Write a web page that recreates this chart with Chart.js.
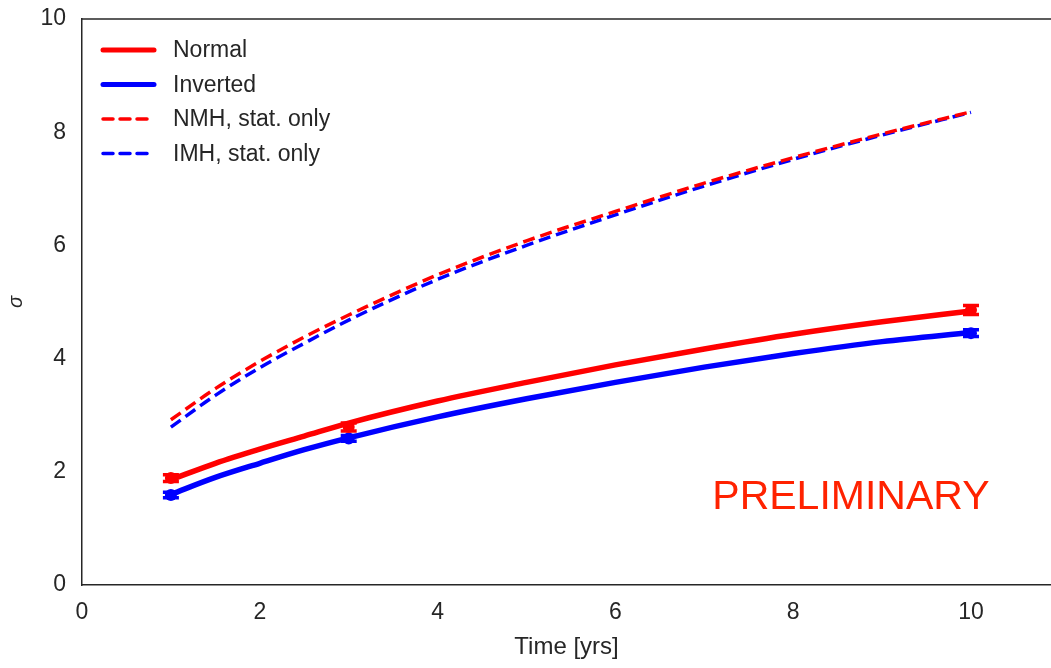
<!DOCTYPE html>
<html>
<head>
<meta charset="utf-8">
<script src="https://cdn.jsdelivr.net/npm/chart.js@4.4.0/dist/chart.umd.min.js"></script>
<style>
  html, body { margin: 0; padding: 0; background: #fff; }
  #wrap { width: 1051px; height: 668px; }
</style>
</head>
<body>
<div id="wrap"><canvas id="myChart" width="1051" height="668"></canvas></div>
<script>
// curves
const curveTimes = [1, 1.5, 2, 2.5, 3, 4, 5, 6, 7, 8, 9, 10];
const normalFit = [1.86, 2.15, 2.40, 2.63, 2.86, 3.25, 3.58, 3.89, 4.17, 4.43, 4.65, 4.84];
const invertedFit = [1.60, 1.90, 2.15, 2.39, 2.60, 2.97, 3.29, 3.58, 3.85, 4.09, 4.30, 4.46];
const nmhStat = [2.92, 3.47, 3.95, 4.38, 4.77, 5.48, 6.08, 6.60, 7.10, 7.55, 7.97, 8.36];
const imhStat = [2.79, 3.35, 3.84, 4.27, 4.68, 5.40, 6.00, 6.54, 7.05, 7.52, 7.95, 8.35];

// simulated points with error bars
const pointTimes = [1, 3, 10];
const normalPts = [1.89, 2.79, 4.86];
const normalErr = [0.06, 0.07, 0.08];
const invertedPts = [1.59, 2.59, 4.45];
const invertedErr = [0.05, 0.05, 0.06];

const xTicks = [0, 2, 4, 6, 8, 10];
const yTicks = [0, 2, 4, 6, 8, 10];

const legendItems = [
  { label: "Normal", color: "#ff0000", width: 5, dash: [] },
  { label: "Inverted", color: "#0000ff", width: 5, dash: [] },
  { label: "NMH, stat. only", color: "#ff0000", width: 3.5, dash: [10, 7] },
  { label: "IMH, stat. only", color: "#0000ff", width: 3.5, dash: [10, 7] },
];

const fontFamily = "'Liberation Sans', Arial, Helvetica, sans-serif";
const axisColor = "#262626";

function toXY(xs, ys) {
  return xs.map((x, i) => ({ x: x, y: ys[i] }));
}

function lineSet(label, ys, color, width, dash) {
  return {
    type: "line",
    label: label,
    data: toXY(curveTimes, ys),
    borderColor: color,
    borderWidth: width,
    borderDash: dash,
    pointRadius: 0,
    fill: false,
    cubicInterpolationMode: "monotone",
  };
}

function pointSet(label, ys, errs, color) {
  return {
    type: "scatter",
    label: label,
    data: toXY(pointTimes, ys),
    errors: errs,
    backgroundColor: color,
    borderColor: color,
    pointRadius: 6,
    pointBorderWidth: 0,
  };
}

const datasets = [
  lineSet("NMH, stat. only", nmhStat, "#ff0000", 3.5, [12, 6]),
  lineSet("IMH, stat. only", imhStat, "#0000ff", 3.5, [12, 6]),
  lineSet("Normal", normalFit, "#ff0000", 5.5, []),
  lineSet("Inverted", invertedFit, "#0000ff", 5.5, []),
  pointSet("Normal points", normalPts, normalErr, "#ff0000"),
  pointSet("Inverted points", invertedPts, invertedErr, "#0000ff"),
];

// error bars, top spine, legend and watermark
const extras = {
  id: "extras",
  afterDatasetsDraw(chart) {
    const ctx = chart.ctx;
    const xs = chart.scales.x, ys = chart.scales.y;
    chart.data.datasets.forEach(ds => {
      if (!ds.errors) return;
      ctx.save();
      ctx.strokeStyle = ds.borderColor;
      ds.data.forEach((p, i) => {
        const px = xs.getPixelForValue(p.x);
        const top = ys.getPixelForValue(p.y + ds.errors[i]);
        const bot = ys.getPixelForValue(p.y - ds.errors[i]);
        ctx.lineWidth = 5;
        ctx.beginPath();
        ctx.moveTo(px, top); ctx.lineTo(px, bot);
        ctx.stroke();
        ctx.lineWidth = 3.5;
        ctx.beginPath();
        ctx.moveTo(px - 8, top); ctx.lineTo(px + 8, top);
        ctx.moveTo(px - 8, bot); ctx.lineTo(px + 8, bot);
        ctx.stroke();
      });
      ctx.restore();
    });
  },
  afterDraw(chart) {
    const ctx = chart.ctx;
    const a = chart.chartArea;
    ctx.save();
    ctx.strokeStyle = axisColor;
    ctx.lineWidth = 1.5;
    ctx.beginPath();
    ctx.moveTo(a.left, a.top);
    ctx.lineTo(a.right, a.top);
    ctx.stroke();

    // legend
    ctx.font = "23px " + fontFamily;
    ctx.textBaseline = "middle";
    legendItems.forEach((it, i) => {
      const y = a.top + 31 + i * 34.5;
      ctx.strokeStyle = it.color;
      ctx.lineWidth = it.width;
      ctx.lineCap = "round";
      ctx.setLineDash(it.dash);
      ctx.beginPath();
      ctx.moveTo(a.left + 21, y);
      ctx.lineTo(a.left + 72, y);
      ctx.stroke();
      ctx.setLineDash([]);
      ctx.fillStyle = axisColor;
      ctx.fillText(it.label, a.left + 91, y + 1);
    });

    // watermark
    ctx.font = "41px " + fontFamily;
    ctx.fillStyle = "#ff2200";
    ctx.textBaseline = "alphabetic";
    ctx.fillText("PRELIMINARY", chart.scales.x.getPixelForValue(7.09), chart.scales.y.getPixelForValue(1.35));
    ctx.restore();
  },
};

new Chart("myChart", {
  data: { datasets: datasets },
  plugins: [extras],
  options: {
    responsive: false,
    animation: false,
    layout: { autoPadding: false, padding: { top: 19, right: 0, left: 0, bottom: 0 } },
    plugins: {
      legend: { display: false },
      tooltip: { enabled: false },
    },
    scales: {
      x: {
        type: "linear",
        min: 0,
        max: 10.9,
        afterBuildTicks: axis => { axis.ticks = xTicks.map(v => ({ value: v })); },
        afterFit: axis => { axis.height = 83; axis.paddingRight = 0; axis.paddingLeft = 0; },
        grid: { display: false, drawTicks: false },
        border: { display: true, color: axisColor, width: 1.5 },
        ticks: { color: axisColor, padding: 14, font: { family: fontFamily, size: 23 } },
        title: {
          display: true,
          text: "Time [yrs]",
          color: axisColor,
          font: { family: fontFamily, size: 24 },
          padding: { top: 0, bottom: 6 },
        },
      },
      y: {
        type: "linear",
        min: 0,
        max: 10,
        afterBuildTicks: axis => { axis.ticks = yTicks.map(v => ({ value: v })); },
        afterFit: axis => { axis.width = 82; axis.paddingTop = 0; axis.paddingBottom = 0; },
        grid: { display: false, drawTicks: false },
        border: { display: true, color: axisColor, width: 1.5 },
        ticks: { color: axisColor, padding: 16, font: { family: fontFamily, size: 23 } },
        title: {
          display: true,
          text: "σ",
          color: axisColor,
          font: { family: fontFamily, size: 20, style: "italic" },
          padding: { top: 4, bottom: 0 },
        },
      },
    },
  },
});
</script>
</body>
</html>
